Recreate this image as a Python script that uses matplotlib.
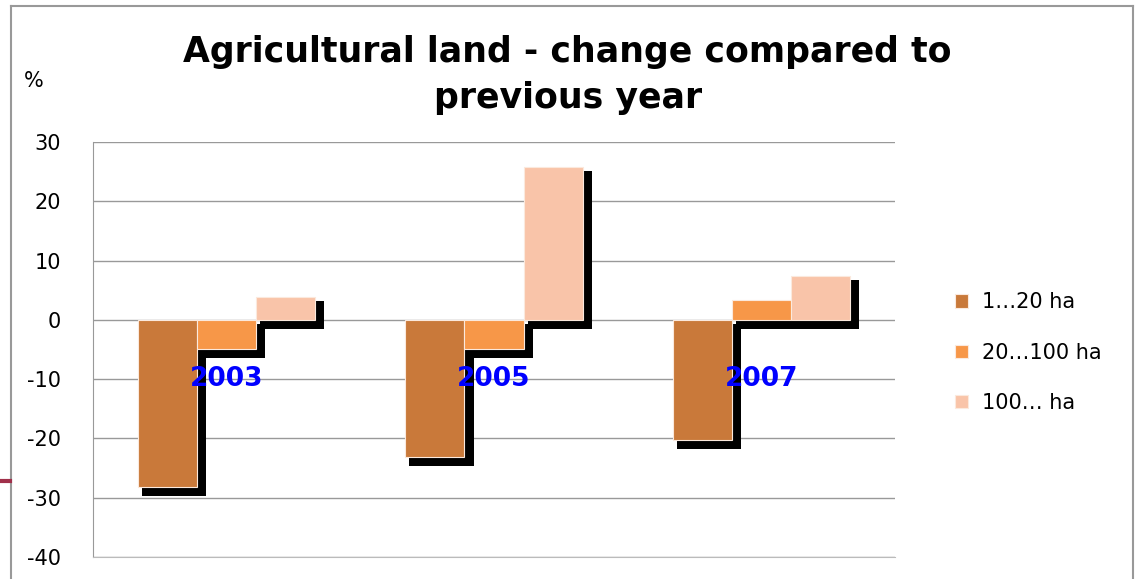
import matplotlib.pyplot as plt
from matplotlib.lines import Line2D
from matplotlib.patches import Rectangle
import numpy as np

plt.rcParams["axes.unicode_minus"] = False

# data
years = ["2003", "2005", "2007"]
small_farms = [-28.2, -23.1, -20.2]    # 1...20 ha
medium_farms = [-4.9, -4.9, 3.3]       # 20...100 ha
large_farms = [3.9, 25.8, 7.4]         # 100... ha
series_labels = ["1…20 ha", "20…100 ha", "100… ha"]
colors = ["#C9793A", "#F79748", "#F9C4A9"]

fig = plt.figure(figsize=(11.42, 5.79), dpi=100)
ax = fig.add_axes([0.0814, 0.038, 0.7023, 0.7167])

x = np.arange(len(years))
w = 0.221
series = [small_farms, medium_farms, large_farms]

# shadow offsets (data units) - roughly 4px / 9px on screen
sx0, sx1 = 0.015, 0.034
sy0, sy1 = 0.67, 1.52

for i, vals in enumerate(series):
    pos = x + (i - 1) * w
    for p, v in zip(pos, vals):
        lo = min(0, v) - sy1
        hi = max(0, v) - sy0
        ax.add_patch(Rectangle((p - w / 2 + sx0, lo), w + sx1 - sx0, hi - lo,
                               facecolor="black", edgecolor="none", zorder=2))
    ax.bar(pos, vals, w, color=colors[i], edgecolor="#FBE9DD", linewidth=0.8,
           label=series_labels[i], zorder=3)

for xi, yr in zip(x, years):
    ax.text(xi, -10, yr, color="#0000FF", fontsize=19, fontweight="bold",
            ha="center", va="center", zorder=4)

ax.set_xlim(-0.5, 2.5)
ax.set_ylim(-40, 30)
ax.set_yticks(range(-40, 31, 10))
ax.set_xticks([])
ax.yaxis.grid(True, color="#999999", linewidth=1)
ax.set_axisbelow(True)
for s in ["top", "right"]:
    ax.spines[s].set_visible(False)
ax.spines["left"].set_color("#999999")
ax.spines["bottom"].set_color("#bbbbbb")
ax.tick_params(axis="y", length=0, labelsize=15, pad=23)

fig.text(0.021, 0.86, "%", fontsize=15, va="center", ha="left")
fig.text(0.497, 0.871, "Agricultural land - change compared to\nprevious year",
         fontsize=25, fontweight="bold", ha="center", va="center",
         linespacing=1.44)

fig.legend(loc="center left", bbox_to_anchor=(0.82, 0.391), frameon=False,
           fontsize=15, handlelength=0.6, handleheight=0.6, handletextpad=0.7,
           labelspacing=1.45)

# outer chart frame
fig.add_artist(Line2D([11 / 1142, 11 / 1142], [0, 1 - 6 / 579], color="#999999", lw=1.5))
fig.add_artist(Line2D([11 / 1142, 1133 / 1142], [1 - 6 / 579, 1 - 6 / 579], color="#999999", lw=1.5))
fig.add_artist(Line2D([1133 / 1142, 1133 / 1142], [0, 1 - 6 / 579], color="#999999", lw=1.5))
fig.add_artist(Line2D([0, 10 / 1142], [1 - 481 / 579, 1 - 481 / 579], color="#A0304A", lw=3))

fig.savefig("out.png", dpi=100)
